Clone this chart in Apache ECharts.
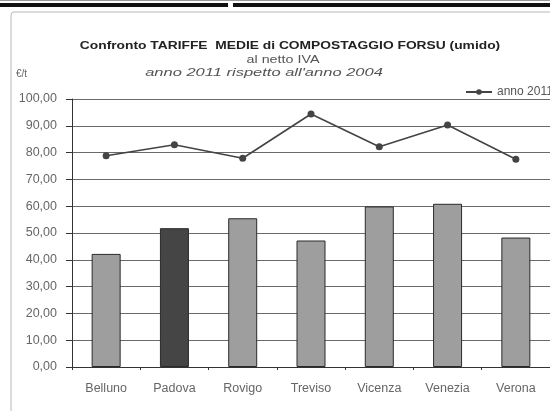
<!DOCTYPE html>
<html>
<head>
<meta charset="utf-8">
<script src="https://cdn.jsdelivr.net/npm/echarts@6/dist/echarts.min.js"></script>
<style>
  html, body { margin: 0; padding: 0; background: #ffffff; }
  #chart { width: 550px; height: 411px; }
</style>
</head>
<body>
<div id="chart"></div>
<script>
// Province e tariffe medie di compostaggio FORSU (€/t, al netto IVA)
const province = ['Belluno', 'Padova', 'Rovigo', 'Treviso', 'Vicenza', 'Venezia', 'Verona'];
const tariffe2004 = [42.2, 51.8, 55.5, 47.2, 59.9, 60.9, 48.3];
const tariffe2011 = [78.8, 82.9, 77.9, 94.4, 82.2, 90.3, 77.5];
const yTicks = { min: 0, max: 100, step: 10 };

const font = 'Arial, "Liberation Sans", sans-serif';
const chart = echarts.init(document.getElementById('chart'), null, { renderer: 'canvas' });

// Padova in evidenza con una tonalità più scura
const barData = tariffe2004.map((v, i) => ({
  value: v,
  itemStyle: province[i] === 'Padova' ? { color: '#454545' } : undefined
}));

// testo centrato, leggermente allargato in orizzontale
function titleText(str, x, y, fontSpec, color, sx) {
  return {
    type: 'text', x: x, y: y, scaleX: sx,
    style: { text: str, font: fontSpec, fill: color, textAlign: 'center', textVerticalAlign: 'middle' }
  };
}

chart.setOption({
  backgroundColor: '#ffffff',
  animation: false,
  grid: { left: 72, top: 99, width: 488, height: 268, containLabel: false },
  legend: {
    data: [{ name: 'anno 2011' }],
    left: 460,
    top: 81,
    itemWidth: 26,
    itemHeight: 7,
    itemGap: 3,
    textStyle: { fontFamily: font, fontSize: 12, color: '#555' }
  },
  graphic: [
    // bordo pagina in alto
    { type: 'rect', shape: { x: 0, y: 0, width: 550, height: 1 }, style: { fill: '#999' } },
    { type: 'rect', shape: { x: 0, y: 3, width: 228, height: 4 }, style: { fill: '#111' } },
    { type: 'rect', shape: { x: 233, y: 3, width: 317, height: 4 }, style: { fill: '#111' } },
    // cornice del grafico
    { type: 'rect', shape: { x: 11, y: 12, width: 560, height: 420, r: 3 },
      style: { fill: 'none', stroke: '#b8b8b8', lineWidth: 1 } },
    titleText('Confronto TARIFFE  MEDIE di COMPOSTAGGIO FORSU (umido)', 290, 46, 'bold 11.5px ' + font, '#222', 1.2),
    titleText('al netto IVA', 283, 60, '11px ' + font, '#555', 1.3),
    titleText("anno 2011 rispetto all'anno 2004", 264, 73, 'italic 11px ' + font, '#555', 1.5),
    { type: 'text', x: 16, y: 74, style: { text: '€/t',
      font: '10px ' + font, fill: '#666', textAlign: 'left', textVerticalAlign: 'middle' } }
  ],
  xAxis: {
    type: 'category',
    data: province,
    boundaryGap: true,
    axisLine: { lineStyle: { color: '#333', width: 1 } },
    axisTick: { show: true, length: 3, lineStyle: { color: '#333' } },
    axisLabel: { margin: 15, fontFamily: font, fontSize: 12.5, color: '#666' },
    splitLine: { show: false }
  },
  yAxis: {
    type: 'value',
    min: yTicks.min,
    max: yTicks.max,
    interval: yTicks.step,
    axisLine: { show: true, lineStyle: { color: '#333', width: 1 } },
    axisTick: { show: true, inside: false, length: 6, lineStyle: { color: '#333' } },
    axisLabel: {
      margin: 15,
      fontFamily: font,
      fontSize: 12.5,
      color: '#666',
      formatter: v => v.toFixed(2).replace('.', ',')
    },
    splitLine: { show: true, lineStyle: { color: '#6a6a6a', width: 1 } }
  },
  series: [
    {
      name: 'anno 2004',
      type: 'bar',
      data: barData,
      barWidth: 29,
      itemStyle: { color: '#9e9e9e', borderColor: '#2a2a2a', borderWidth: 1 }
    },
    {
      name: 'anno 2011',
      type: 'line',
      data: tariffe2011,
      symbol: 'circle',
      symbolSize: 7,
      lineStyle: { color: '#444', width: 1.6 },
      itemStyle: { color: '#444' }
    }
  ]
});
</script>
</body>
</html>
